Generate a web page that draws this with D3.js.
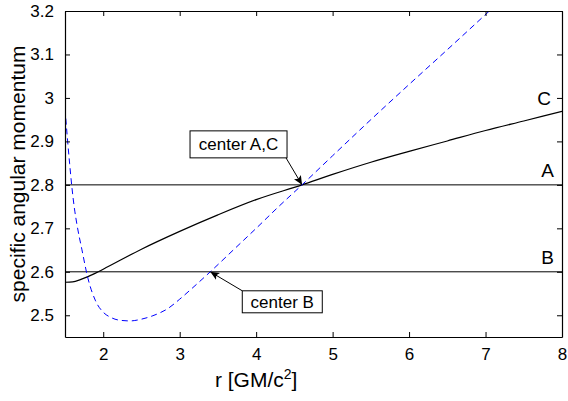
<!DOCTYPE html>
<html lang="en">
<head>
  <meta charset="UTF-8">
  <title>Specific angular momentum</title>
  <script src="https://d3js.org/d3.v7.min.js"></script>
  <style>
    body { margin: 0; background: #fff; }
    text { font-family: "Liberation Sans", Arial, sans-serif; }
  </style>
</head>
<body>
  <svg width="568" height="401"></svg>

  <script>
    // Data
    const keplerR = [1.5, 1.53, 1.56, 1.59, 1.62, 1.66, 1.72, 1.8, 1.9, 2.0, 2.1, 2.2, 2.35, 2.5, 2.65, 2.85, 3.0, 3.2, 3.4, 3.7, 4.0, 4.3, 4.6, 5.0, 5.5, 6.0, 6.5, 7.05];
    const keplerL = [2.976, 2.91, 2.85, 2.795, 2.75, 2.705, 2.652, 2.585, 2.533, 2.507, 2.495, 2.489, 2.487, 2.491, 2.499, 2.516, 2.537, 2.568, 2.60, 2.65, 2.70, 2.751, 2.80, 2.867, 2.95, 3.031, 3.111, 3.2];

    const diskR = [1.5, 1.6, 1.7, 1.8, 1.9, 2.0, 2.5, 3.0, 3.5, 4.0, 4.6, 5.0, 5.5, 6.0, 6.5, 7.0, 7.5, 8.0];
    const diskL = [2.576, 2.577, 2.582, 2.589, 2.597, 2.606, 2.652, 2.693, 2.731, 2.766, 2.80, 2.824, 2.852, 2.877, 2.901, 2.925, 2.947, 2.969];

    // constant angular momentum lines
    const levelNames = ["A", "B"];
    const levelValues = [2.8, 2.6];

    const xTicks = [2, 3, 4, 5, 6, 7, 8];
    const yTicks = [2.5, 2.6, 2.7, 2.8, 2.9, 3, 3.1, 3.2];

    // annotations: label, point (r, l)
    const noteText = ["center A,C", "center B"];
    const noteR = [4.6, 3.4];
    const noteL = [2.8, 2.6];

    const svg = d3.select("svg"),
          margin = { top: 11, right: 6, bottom: 64, left: 65 },
          width = +svg.attr("width") - margin.left - margin.right,
          height = +svg.attr("height") - margin.top - margin.bottom,
          g = svg.append("g").attr("transform", "translate(" + margin.left + "," + margin.top + ")");

    const x = d3.scaleLinear().domain([1.5, 8]).range([0, width]);
    const y = d3.scaleLinear().domain([2.45, 3.2]).range([height, 0]);

    svg.append("defs").append("clipPath").attr("id", "clip")
      .append("rect").attr("width", width).attr("height", height);

    const marker = svg.select("defs").append("marker")
      .attr("id", "arrow")
      .attr("markerUnits", "userSpaceOnUse")
      .attr("markerWidth", 10).attr("markerHeight", 10)
      .attr("refX", 9).attr("refY", 5)
      .attr("orient", "auto");
    marker.append("path").attr("d", "M0,1 L9,5 L0,9 L2,5 Z").attr("fill", "#000");

    const plot = g.append("g").attr("clip-path", "url(#clip)");

    // horizontal levels
    plot.selectAll(".level")
      .data(levelValues)
      .enter().append("line")
      .attr("x1", 0).attr("x2", width)
      .attr("y1", d => y(d)).attr("y2", d => y(d))
      .attr("stroke", "#000").attr("stroke-width", 1);

    const line = d3.line()
      .x(d => x(d[0]))
      .y(d => y(d[1]))
      .curve(d3.curveMonotoneX);

    plot.append("path")
      .datum(diskR.map((r, i) => [r, diskL[i]]))
      .attr("fill", "none")
      .attr("stroke", "#000")
      .attr("stroke-width", 1.2)
      .attr("d", line);

    plot.append("path")
      .datum(keplerR.map((r, i) => [r, keplerL[i]]))
      .attr("fill", "none")
      .attr("stroke", "#0000ff")
      .attr("stroke-width", 1)
      .attr("stroke-dasharray", "6,4")
      .attr("d", line);

    // curve labels
    g.selectAll(".lvl-label")
      .data(levelNames)
      .enter().append("text")
      .attr("x", width - 8)
      .attr("y", (d, i) => y(levelValues[i]) - 8)
      .attr("text-anchor", "end")
      .style("font-size", "19px")
      .text(d => d);

    g.append("text")
      .attr("x", width - 11)
      .attr("y", y(diskL[diskL.length - 1]) - 6)
      .attr("text-anchor", "end")
      .style("font-size", "19px")
      .text("C");

    // annotations
    const boxes = [
      { dx: -112, dy: -54, w: 97, h: 27, ax: -16, ay: -27 },
      { dx: 32, dy: 19, w: 80, h: 22, ax: 32, ay: 19 }
    ];
    noteText.forEach((t, i) => {
      const px = x(noteR[i]), py = y(noteL[i]), b = boxes[i];
      g.append("line")
        .attr("x1", px + b.ax).attr("y1", py + b.ay)
        .attr("x2", px).attr("y2", py)
        .attr("stroke", "#000").attr("stroke-width", 1)
        .attr("marker-end", "url(#arrow)");
      g.append("rect")
        .attr("x", px + b.dx).attr("y", py + b.dy)
        .attr("width", b.w).attr("height", b.h)
        .attr("fill", "#fff").attr("stroke", "#000").attr("stroke-width", 1);
      g.append("text")
        .attr("x", px + b.dx + b.w / 2).attr("y", py + b.dy + b.h / 2 + 6)
        .attr("text-anchor", "middle")
        .style("font-size", "17px")
        .text(t);
    });

    // axes, MATLAB style box with inward ticks
    const fmt = d => String(d);
    g.append("g").attr("transform", "translate(0," + height + ")")
      .call(d3.axisBottom(x).tickValues(xTicks).tickFormat(fmt).tickSizeInner(-5).tickSizeOuter(0).tickPadding(11));
    g.append("g")
      .call(d3.axisTop(x).tickValues(xTicks).tickFormat("").tickSizeInner(-5).tickSizeOuter(0));
    g.append("g")
      .call(d3.axisLeft(y).tickValues(yTicks).tickFormat(fmt).tickSizeInner(-5).tickSizeOuter(0).tickPadding(11));
    g.append("g").attr("transform", "translate(" + width + ",0)")
      .call(d3.axisRight(y).tickValues(yTicks).tickFormat("").tickSizeInner(-5).tickSizeOuter(0));

    g.selectAll(".domain").attr("stroke", "#000").attr("stroke-width", 1.2);
    g.selectAll(".tick line").attr("stroke", "#000");
    g.selectAll(".tick text")
      .attr("fill", "#000")
      .style("font-size", "17px")
      .style("font-family", "'Liberation Sans', Arial, sans-serif");

    // axis labels
    const xl = svg.append("text")
      .attr("x", margin.left + x(4.0))
      .attr("y", 387)
      .attr("text-anchor", "middle")
      .style("font-size", "21px");
    xl.append("tspan").text("r [GM/c");
    xl.append("tspan").attr("dy", -8).style("font-size", "14px").text("2");
    xl.append("tspan").attr("dy", 8).text("]");

    svg.append("text")
      .attr("transform", "translate(25," + (margin.top + height / 2) + ") rotate(-90)")
      .attr("text-anchor", "middle")
      .style("font-size", "21px")
      .text("specific angular momentum");
  </script>
</body>
</html>
